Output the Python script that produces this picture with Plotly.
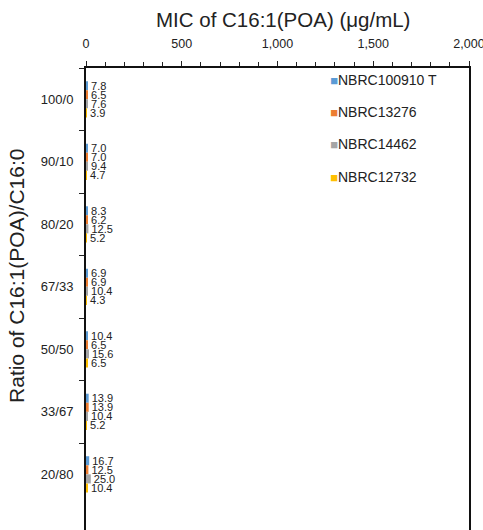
import plotly.graph_objects as go

categories = ["100/0", "90/10", "80/20", "67/33", "50/50", "33/67", "20/80"]
series_names = ["NBRC100910 T", "NBRC13276", "NBRC14462", "NBRC12732"]
nbrc100910 = [7.8, 7.0, 8.3, 6.9, 10.4, 13.9, 16.7]
nbrc13276 = [6.5, 7.0, 6.2, 6.9, 6.5, 13.9, 12.5]
nbrc14462 = [7.6, 9.4, 12.5, 10.4, 15.6, 10.4, 25.0]
nbrc12732 = [3.9, 4.7, 5.2, 4.3, 6.5, 5.2, 10.4]
x_ticks = [0, 500, 1000, 1500, 2000]

colors = ["#5B9BD5", "#ED7D31", "#A5A5A5", "#FFC000"]
FONT = "Liberation Sans, Arial, sans-serif"

W, H = 483, 530

fig = go.Figure()
for name, vals, col in zip(series_names, [nbrc100910, nbrc13276, nbrc14462, nbrc12732], colors):
    fig.add_trace(go.Bar(
        y=categories, x=vals, orientation="h", name=name,
        marker=dict(color=col, line=dict(width=0)),
        text=[f"{v:.1f}" for v in vals], textposition="outside",
        constraintext="none", cliponaxis=False,
        textfont=dict(family=FONT, size=11, color="#222"),
        showlegend=False,
    ))
    # legend entry: coloured square glyph drawn in the legend text
    fig.add_trace(go.Scatter(
        x=[None], y=[None], mode="markers", legendgroup=name,
        name=f"<span style='font-size:13px;color:{col}'>■</span>{name}",
        marker=dict(symbol="square", size=1, color="rgba(0,0,0,0)"),
    ))

fig.update_layout(
    width=W, height=H,
    margin=dict(l=86, r=14, t=68, b=0),
    plot_bgcolor="white", paper_bgcolor="white",
    barmode="group", bargap=0.42, bargroupgap=0,
    font=dict(family=FONT, color="#222"),
    showlegend=True,
    legend=dict(x=0.533, y=1.009, xanchor="left", yanchor="top",
                font=dict(family=FONT, size=14, color="#222"),
                tracegroupgap=11, itemwidth=30, bgcolor="rgba(0,0,0,0)"),
    annotations=[
        dict(text="MIC of C16:1(POA) (μg/mL)", x=0.514, xref="paper", y=1.106, yref="paper",
             showarrow=False, xanchor="center", yanchor="middle",
             font=dict(family=FONT, size=20.5, color="#222")),
        dict(text="Ratio of C16:1(POA)/C16:0", textangle=-90, x=-0.18, xref="paper",
             y=0.55, yref="paper", showarrow=False, xanchor="center", yanchor="middle",
             font=dict(family=FONT, size=21, color="#222")),
    ],
)

fig.update_xaxes(
    side="top", range=[0, 2000], tickvals=x_ticks, tickformat=",",
    ticks="outside", ticklen=5, tickwidth=1, tickcolor="#222",
    minor=dict(dtick=100, ticks="outside", ticklen=4, tickcolor="#222", tickwidth=1),
    showline=True, linecolor="#111", linewidth=2, showgrid=False, zeroline=False,
    tickfont=dict(family=FONT, size=12.5, color="#222"), ticklabelstandoff=8,
    ticklabeloverflow="allow", automargin=False,
)
fig.update_yaxes(
    type="category", categoryorder="array", categoryarray=categories,
    range=[6.89, -0.5], tickson="boundaries",
    ticks="outside", ticklen=5, tickwidth=1, tickcolor="#222",
    showline=True, linecolor="#111", linewidth=2, mirror=True, showgrid=False,
    tickfont=dict(family=FONT, size=13, color="#222"), ticklabelstandoff=8,
    automargin=False,
)

fig.write_html(
    "out.html",
    config={"displayModeBar": False},
    post_script="document.body.style.margin='0';document.body.style.overflow='hidden';",
)
